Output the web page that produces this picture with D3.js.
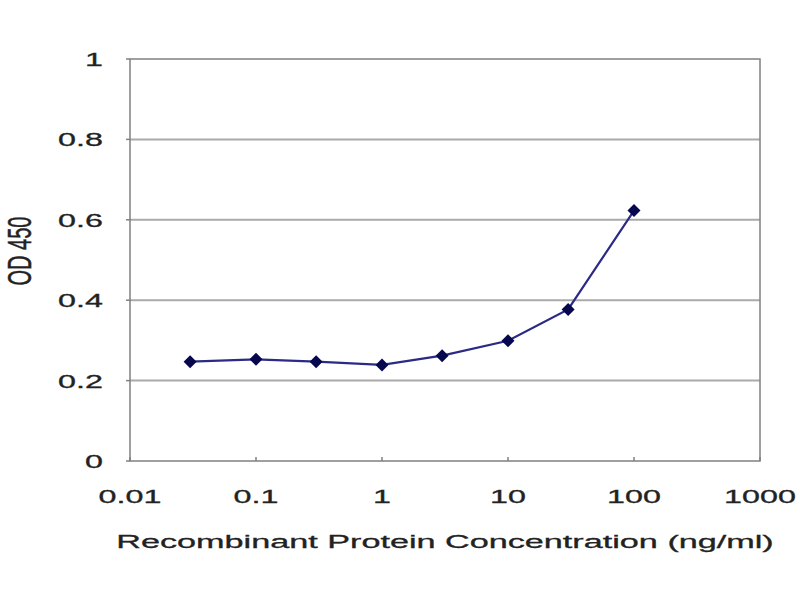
<!DOCTYPE html>
<html lang="en">
<head>
  <meta charset="UTF-8">
  <title>OD 450 vs Recombinant Protein Concentration</title>
  <script src="https://d3js.org/d3.v7.min.js"></script>
  <style>
    body { margin: 0; background: #fff; }
  </style>
</head>
<body>
  <svg id="chart" width="800" height="600"></svg>

  <script>
    // data
    const concentrations = [0.03, 0.1, 0.3, 1, 3, 10, 30, 100];
    const odValues = [0.247, 0.253, 0.247, 0.239, 0.262, 0.299, 0.377, 0.623];
    const xTicks = [0.01, 0.1, 1, 10, 100, 1000];
    const xTickLabels = ["0.01", "0.1", "1", "10", "100", "1000"];
    const yTicks = [0, 0.2, 0.4, 0.6, 0.8, 1];
    const yTickLabels = ["0", "0.2", "0.4", "0.6", "0.8", "1"];

    const plotLeft = 130, plotRight = 760, plotTop = 59, plotBottom = 461;
    const stretch = 1.7;   // the original picture is squashed sideways
    const font = "'Liberation Sans', Arial, sans-serif";
    const textColor = "#222";

    const svg = d3.select("#chart");

    const x = d3.scaleLog().domain([0.01, 1000]).range([plotLeft, plotRight]);
    const y = d3.scaleLinear().domain([0, 1]).range([plotBottom, plotTop]);

    // grid lines
    svg.append("g")
      .selectAll("line")
      .data(yTicks.filter(d => d > 0 && d < 1))
      .join("line")
        .attr("x1", plotLeft)
        .attr("x2", plotRight)
        .attr("y1", d => y(d))
        .attr("y2", d => y(d))
        .attr("stroke", "#aaa")
        .attr("stroke-width", 2);

    // plot frame
    svg.append("rect")
      .attr("x", plotLeft)
      .attr("y", plotTop)
      .attr("width", plotRight - plotLeft)
      .attr("height", plotBottom - plotTop)
      .attr("fill", "none")
      .attr("stroke", "#808080")
      .attr("stroke-width", 1.5);

    // y ticks + labels
    svg.append("g")
      .selectAll("line")
      .data(yTicks)
      .join("line")
        .attr("x1", plotLeft - 4)
        .attr("x2", plotLeft)
        .attr("y1", d => y(d))
        .attr("y2", d => y(d))
        .attr("stroke", "#808080")
        .attr("stroke-width", 1.5);

    svg.append("g")
      .selectAll("text")
      .data(yTicks)
      .join("text")
        .attr("transform", d => `translate(103,${y(d) + 7}) scale(${stretch},1)`)
        .attr("text-anchor", "end")
        .attr("font-family", font)
        .attr("font-size", 19)
        .attr("fill", textColor)
        .attr("stroke", textColor)
        .attr("stroke-width", 0.3)
        .text((d, i) => yTickLabels[i]);

    // x ticks + labels
    svg.append("g")
      .selectAll("line")
      .data(xTicks)
      .join("line")
        .attr("x1", d => x(d))
        .attr("x2", d => x(d))
        .attr("y1", plotBottom)
        .attr("y2", plotBottom - 4)
        .attr("stroke", "#808080")
        .attr("stroke-width", 1.5);

    svg.append("g")
      .selectAll("text")
      .data(xTicks)
      .join("text")
        .attr("transform", d => `translate(${x(d)},503) scale(${stretch},1)`)
        .attr("text-anchor", "middle")
        .attr("font-family", font)
        .attr("font-size", 19)
        .attr("fill", textColor)
        .attr("stroke", textColor)
        .attr("stroke-width", 0.3)
        .text((d, i) => xTickLabels[i]);

    // axis titles
    svg.append("text")
      .attr("transform", `translate(445,548) scale(1.8,1)`)
      .attr("text-anchor", "middle")
      .attr("font-family", font)
      .attr("font-size", 19)
      .attr("fill", textColor)
      .attr("stroke", textColor)
      .attr("stroke-width", 0.3)
      .text("Recombinant Protein Concentration (ng/ml)");

    svg.append("text")
      .attr("transform", `translate(31,251) scale(${stretch},1) rotate(-90)`)
      .attr("text-anchor", "middle")
      .attr("font-family", font)
      .attr("font-size", 20)
      .attr("fill", textColor)
      .attr("stroke", textColor)
      .attr("stroke-width", 0.3)
      .text("OD 450");

    // series
    const points = concentrations.map((c, i) => ({ c, v: odValues[i] }));

    svg.append("path")
      .datum(points)
      .attr("fill", "none")
      .attr("stroke", "#2b2b85")
      .attr("stroke-width", 2.2)
      .attr("d", d3.line().x(d => x(d.c)).y(d => y(d.v)));

    svg.append("g")
      .selectAll("path")
      .data(points)
      .join("path")
        .attr("transform", d => `translate(${x(d.c)},${y(d.v)}) rotate(45)`)
        .attr("d", d3.symbol(d3.symbolSquare, 85))
        .attr("fill", "#07074f");
  </script>
</body>
</html>
